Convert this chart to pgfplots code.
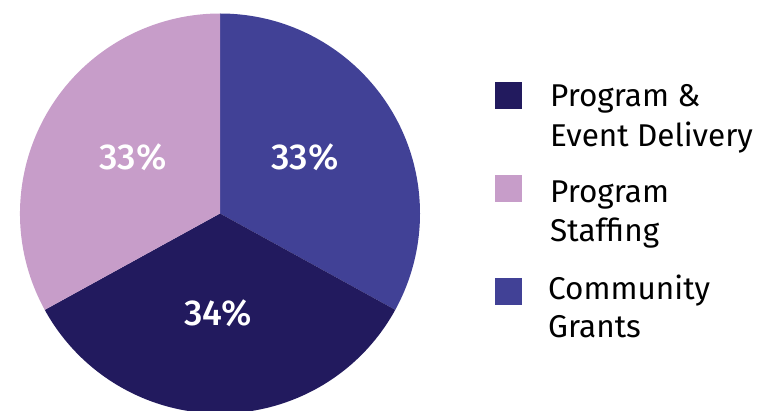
\documentclass[border=0pt]{standalone}
\usepackage{pgfplots}
\pgfplotsset{compat=1.18}
\usepackage{pgfplotstable}
\usepackage{fontspec}
\setmainfont{Fira Sans}
\newfontfamily\medfont{Fira Sans}[UprightFont={* Medium}]
\definecolor{cNavy}{HTML}{221A5E}
\definecolor{cPink}{HTML}{C79DC9}
\definecolor{cBlue}{HTML}{414196}
\pgfplotstableread{
name value
Grants 33
Delivery 34
Staffing 33
}\piedata
\begin{document}
\begin{tikzpicture}
\pgfplotstablegetelem{0}{value}\of\piedata\global\let\vA\pgfplotsretval
\pgfplotstablegetelem{1}{value}\of\piedata\global\let\vB\pgfplotsretval
\pgfplotstablegetelem{2}{value}\of\piedata\global\let\vC\pgfplotsretval
\pgfmathsetmacro\aS{90}\global\let\aS\aS
\pgfmathsetmacro\aA{90-3.6*\vA}\global\let\aA\aA
\pgfmathsetmacro\aB{\aA-3.6*\vB}\global\let\aB\aB
\pgfmathsetmacro\aC{\aB-3.6*\vC}\global\let\aC\aC
\begin{axis}[
  width=758pt, height=411pt, scale only axis,
  xmin=0, xmax=758, ymin=0, ymax=411, y dir=reverse,
  axis line style={draw=none}, ticks=none, clip=true,
]
\coordinate (BL) at (rel axis cs:0,0);
\coordinate (TR) at (rel axis cs:1,1);
\fill[cBlue] (axis cs:220,213.5) -- ++(\aS:200pt) arc[start angle=\aS, end angle=\aA, radius=200pt] -- cycle;
\fill[cNavy] (axis cs:220,213.5) -- ++(\aA:200pt) arc[start angle=\aA, end angle=\aB, radius=200pt] -- cycle;
\fill[cPink] (axis cs:220,213.5) -- ++(\aB:200pt) arc[start angle=\aB, end angle=\aC, radius=200pt] -- cycle;
\node[white, font=\fontsize{36}{40}\selectfont\medfont] at (axis cs:305,157) {\vA\%};
\node[white, font=\fontsize{36}{40}\selectfont\medfont] at (axis cs:218,313) {\vB\%};
\node[white, font=\fontsize{36}{40}\selectfont\medfont] at (axis cs:133,157) {\vC\%};
% legend
\fill[cNavy] (axis cs:495,82) rectangle (axis cs:522,109);
\fill[cPink] (axis cs:495,175) rectangle (axis cs:522,202);
\fill[cBlue] (axis cs:495,278) rectangle (axis cs:522,305);
\node[anchor=base west, inner sep=0pt, font=\fontsize{31.5}{39}\selectfont] at (axis cs:550,107) {Program \&};
\node[anchor=base west, inner sep=0pt, font=\fontsize{31.5}{39}\selectfont] at (axis cs:550,147) {Event Delivery};
\node[anchor=base west, inner sep=0pt, font=\fontsize{31.5}{39}\selectfont] at (axis cs:550,203) {Program};
\node[anchor=base west, inner sep=0pt, font=\fontsize{31.5}{39}\selectfont] at (axis cs:550,242) {Staffing};
\node[anchor=base west, inner sep=0pt, font=\fontsize{31.5}{39}\selectfont] at (axis cs:548,300) {Community};
\node[anchor=base west, inner sep=0pt, font=\fontsize{31.5}{39}\selectfont] at (axis cs:548,338) {Grants};
\end{axis}
\pgfresetboundingbox
\useasboundingbox (BL) rectangle (TR);
\end{tikzpicture}
\end{document}
